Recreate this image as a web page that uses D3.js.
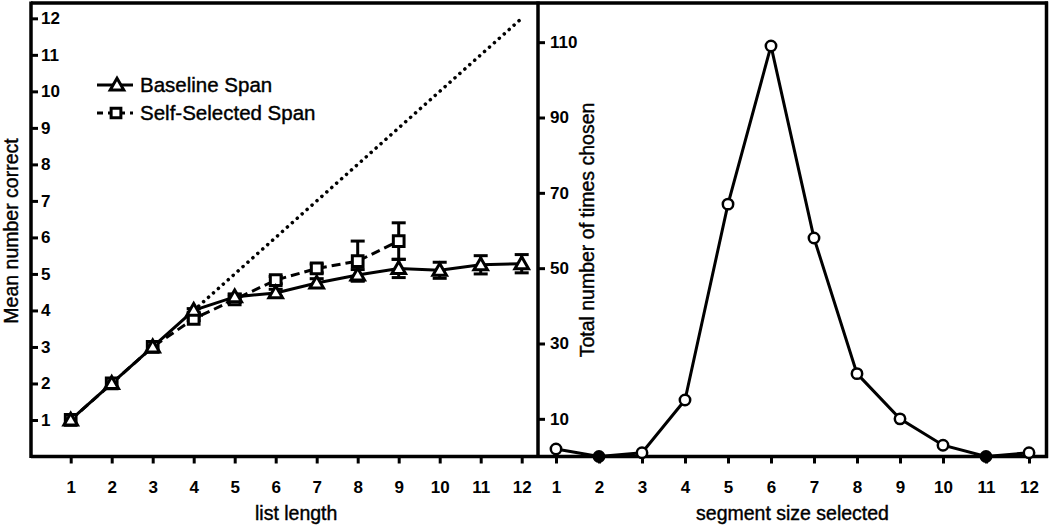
<!DOCTYPE html>
<html><head><meta charset="utf-8">
<script src="https://cdn.jsdelivr.net/npm/d3@7"></script>
<style>body{margin:0;background:#fff}svg{display:block}text{font-family:"Liberation Sans",Arial,sans-serif}</style>
</head><body>
<svg id="c" width="1050" height="526"></svg>
<script>
const listLength = [1,2,3,4,5,6,7,8,9,10,11,12];
const baselineMean = [1,2,3,4.0,4.37,4.48,4.75,4.97,5.15,5.1,5.25,5.28];
const baselineSE   = [0,0,0,0.05,0.08,0.1,0.12,0.15,0.25,0.22,0.25,0.25];
const selfLength = [1,2,3,4,5,6,7,8,9];
const selfMean   = [1,2,3,3.77,4.3,4.83,5.15,5.35,5.9];
const selfSE     = [0,0,0,0.05,0.08,0.1,0.12,0.55,0.5];
const leftYTicks = [1,2,3,4,5,6,7,8,9,10,11,12];
const segmentSize = [1,2,3,4,5,6,7,8,9,10,11,12];
const timesChosen = [2,0,1,15,67,109,58,22,10,3,0,1];
const rightYTicks = [10,30,50,70,90,110];

const svg = d3.select("#c");
const TOP = 3, AXY = 456.5;
const xL = d3.scaleLinear().domain([1,12]).range([70.7,521.7]);
const yL = d3.scaleLinear().domain([0,12.42]).range([AXY,TOP]);
const xR = d3.scaleLinear().domain([1,12]).range([556,1029]);
const yR = d3.scaleLinear().domain([0,120.4]).range([AXY,TOP]);
const LX = 31, MX = 538, RX = 1046.5;

// frame
const frame = svg.append("g").attr("stroke","#000").attr("stroke-width",3.5).attr("fill","none");
frame.append("line").attr("x1",LX).attr("x2",RX+1.5).attr("y1",TOP).attr("y2",TOP);
frame.append("line").attr("x1",LX).attr("x2",RX+1.5).attr("y1",AXY).attr("y2",AXY);
[LX,MX,RX].forEach(x=>frame.append("line").attr("x1",x).attr("x2",x).attr("y1",TOP-1.5).attr("y2",AXY+1.5));

function styleAxis(g){
  g.select(".domain").remove();
  g.selectAll(".tick line").attr("stroke","#000").attr("stroke-width",3);
  g.selectAll(".tick text").attr("fill","#000").style("font-size","17px").style("font-weight","bold");
}
svg.append("g").attr("transform",`translate(${LX},0)`)
  .call(d3.axisRight(yL).tickValues(leftYTicks).tickSize(7).tickPadding(3)).call(styleAxis);
svg.append("g").attr("transform",`translate(${MX},0)`)
  .call(d3.axisRight(yR).tickValues(rightYTicks).tickSize(7).tickPadding(5)).call(styleAxis);
svg.append("g").attr("transform",`translate(0,${AXY})`)
  .call(d3.axisBottom(xL).tickValues(listLength).tickSize(7).tickPadding(17)).call(styleAxis);
svg.append("g").attr("transform",`translate(0,${AXY})`)
  .call(d3.axisBottom(xR).tickValues(segmentSize).tickSize(7).tickPadding(17)).call(styleAxis);

// titles
const tstyle = s=>s.style("font-size","19.5px").attr("stroke","#000").attr("stroke-width",0.4);
svg.append("text").attr("x",(xL(1)+xL(12))/2).attr("y",520).attr("text-anchor","middle").call(tstyle).text("list length");
svg.append("text").attr("x",(xR(1)+xR(12))/2).attr("y",520).attr("text-anchor","middle").call(tstyle).text("segment size selected");
svg.append("text").attr("transform","translate(18,231) rotate(-90)").attr("text-anchor","middle").call(tstyle).text("Mean number correct");
svg.append("text").attr("transform","translate(594,230) rotate(-90)").attr("text-anchor","middle").call(tstyle).text("Total number of times chosen");

// identity dotted line
svg.append("line").attr("x1",xL(4)).attr("y1",yL(4)).attr("x2",xL(12)).attr("y2",yL(12))
  .attr("stroke","#000").attr("stroke-width",3.5).attr("stroke-dasharray","0.1 6.5").attr("stroke-linecap","round");

const base = listLength.map((x,i)=>({x,y:baselineMean[i],e:baselineSE[i]}));
const self = selfLength.map((x,i)=>({x,y:selfMean[i],e:selfSE[i]}));

function errBars(data){
  const g = svg.append("g").attr("stroke","#000").attr("stroke-width",3);
  data.filter(d=>d.e>0).forEach(d=>{
    const cx = xL(d.x);
    g.append("line").attr("x1",cx).attr("x2",cx).attr("y1",yL(d.y-d.e)).attr("y2",yL(d.y+d.e));
    [d.y-d.e,d.y+d.e].forEach(v=>g.append("line").attr("x1",cx-7).attr("x2",cx+7).attr("y1",yL(v)).attr("y2",yL(v)));
  });
}
errBars(self); errBars(base);

const line = d3.line().x(d=>xL(d.x)).y(d=>yL(d.y));
svg.append("path").datum(self).attr("d",line).attr("fill","none").attr("stroke","#000").attr("stroke-width",3).attr("stroke-dasharray","9 5");
svg.append("path").datum(base).attr("d",line).attr("fill","none").attr("stroke","#000").attr("stroke-width",3);

const tri = d3.symbol().type(d3.symbolTriangle).size(80);
const sq = d3.symbol().type(d3.symbolSquare).size(115);
svg.append("g").selectAll("path").data(self).join("path")
  .attr("transform",d=>`translate(${xL(d.x)},${yL(d.y)})`).attr("d",sq)
  .attr("fill","#fff").attr("stroke","#000").attr("stroke-width",3);
svg.append("g").selectAll("path").data(base).join("path")
  .attr("transform",d=>`translate(${xL(d.x)},${yL(d.y)+1})`).attr("d",tri)
  .attr("fill","#fff").attr("stroke","#000").attr("stroke-width",3);

// legend
const lg = svg.append("g");
lg.append("line").attr("x1",97).attr("x2",133).attr("y1",85).attr("y2",85).attr("stroke","#000").attr("stroke-width",3);
lg.append("path").attr("transform","translate(117,86)").attr("d",tri).attr("fill","#fff").attr("stroke","#000").attr("stroke-width",3);
lg.append("text").attr("x",140).attr("y",92).call(tstyle).style("font-size","20.5px").text("Baseline Span");
lg.append("line").attr("x1",97).attr("x2",133).attr("y1",113).attr("y2",113).attr("stroke","#000").attr("stroke-width",3).attr("stroke-dasharray","6 5");
lg.append("path").attr("transform","translate(116,113)").attr("d",d3.symbol().type(d3.symbolSquare).size(95)).attr("fill","#fff").attr("stroke","#000").attr("stroke-width",3);
lg.append("text").attr("x",140).attr("y",120).call(tstyle).style("font-size","20.5px").text("Self-Selected Span");

// right panel
const seg = segmentSize.map((x,i)=>({x,y:timesChosen[i]}));
svg.append("path").datum(seg).attr("d",d3.line().x(d=>xR(d.x)).y(d=>yR(d.y)))
  .attr("fill","none").attr("stroke","#000").attr("stroke-width",3);
svg.append("g").selectAll("circle").data(seg).join("circle")
  .attr("cx",d=>xR(d.x)).attr("cy",d=>yR(d.y)).attr("r",5.2)
  .attr("fill",d=>d.y===0?"#000":"#fff").attr("stroke","#000").attr("stroke-width",2.5);
</script>
</body></html>
